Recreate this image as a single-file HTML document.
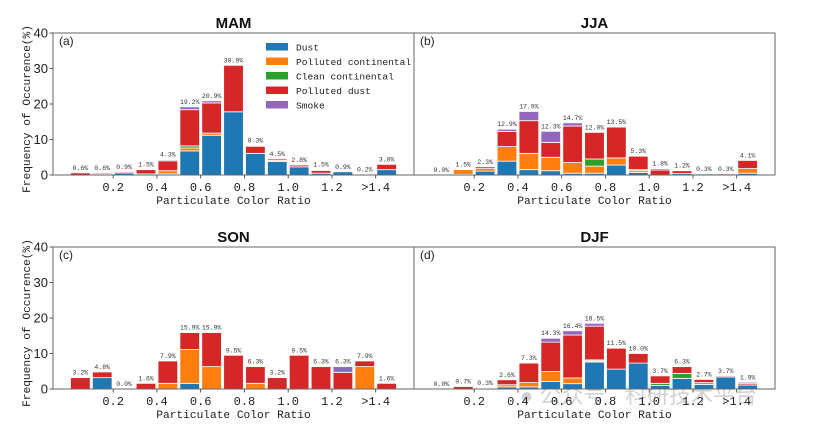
<!DOCTYPE html>
<html><head><meta charset="utf-8"><style>
html,body{margin:0;padding:0;background:#fff;}
svg{display:block;}
</style></head><body>
<svg id="chart" width="817" height="426" viewBox="0 0 817 426" xmlns="http://www.w3.org/2000/svg" font-family="Liberation Sans, sans-serif"></svg>
<script>
// ---- data (bins 0..14, stacked bottom->top: Dust, Polluted continental, Clean continental, Polluted dust, Smoke)
const xTickValues = [0.2,0.4,0.6,0.8,1.0,1.2,1.4];
const xTickLabels = ["0.2","0.4","0.6","0.8","1.0","1.2",">1.4"];
const yTickValues = [0,10,20,30,40];
const seriesNames = ["Dust","Polluted continental","Clean continental","Polluted dust","Smoke"];
const seriesColors = ["#1f77b4","#ff7f0e","#2ca02c","#d62728","#9467bd"];
const seasonNames = ["MAM","JJA","SON","DJF"];
const panelLetters = ["(a)","(b)","(c)","(d)"];

const mamDust    = [0,0.3,0.6,0.3,0.3,6.8,11.2,17.8,6.1,3.8,2.3,0.5,0.9,0,1.5];
const mamPolCont = [0,0,0,0,0.9,0.8,0.6,0,0,0.3,0,0,0,0,0];
const mamClean   = [0,0,0,0,0,0.6,0,0,0,0,0,0,0,0,0];
const mamPolDust = [0.6,0.3,0.3,1.2,2.8,10.2,8.5,13.1,2.0,0.4,0.5,0.8,0,0.2,1.5];
const mamSmoke   = [0,0,0,0,0.3,0.8,0.6,0,0.2,0,0,0.2,0,0,0];

const jjaDust    = [0,0.2,1.1,3.9,1.5,1.2,0.5,0.5,2.8,0.7,0,0.4,0.3,0,0.5];
const jjaPolCont = [0,1.3,0.7,4.1,4.6,3.8,3.0,2.0,2.0,0.5,0,0,0,0,1.3];
const jjaClean   = [0,0,0,0,0,0,0,2.0,0,0.3,0,0,0,0,0];
const jjaPolDust = [0,0,0.5,4.3,9.2,4.2,10.3,7.5,8.7,3.8,1.4,0.8,0,0.3,2.3];
const jjaSmoke   = [0,0,0,0.6,2.6,3.1,0.9,0,0,0,0.4,0,0,0,0];

const sonDust    = [0,3.2,0,0,0,1.6,0,0,0,0,0,0,0,0,0];
const sonPolCont = [0,0,0,0,1.6,9.5,6.3,0,1.6,0,0,0,0,6.3,0];
const sonClean   = [0,0,0,0,0,0,0,0,0,0,0,0,0,0,0];
const sonPolDust = [3.2,1.6,0,1.6,6.3,4.8,9.6,9.5,4.7,3.2,9.5,6.3,4.7,1.6,1.6];
const sonSmoke   = [0,0,0,0,0,0,0,0,0,0,0,0,1.6,0,0];

const djfDust    = [0,0,0,0.6,0.6,2.1,1.5,7.6,5.6,7.3,1.0,3.0,1.3,3.4,1.1];
const djfPolCont = [0,0,0.1,0.6,1.2,2.8,1.6,0.3,0,0,0,0,0.5,0,0];
const djfClean   = [0,0,0,0,0,0,0,0.3,0,0,0.6,1.4,0,0,0];
const djfPolDust = [0,0.7,0.2,1.4,5.5,8.3,12.1,9.5,5.9,2.7,2.1,1.9,0.9,0.3,0.4];
const djfSmoke   = [0,0,0,0,0,1.1,1.2,0.8,0,0,0,0,0,0,0.4];

const seasonSeries = [
  [mamDust,mamPolCont,mamClean,mamPolDust,mamSmoke],
  [jjaDust,jjaPolCont,jjaClean,jjaPolDust,jjaSmoke],
  [sonDust,sonPolCont,sonClean,sonPolDust,sonSmoke],
  [djfDust,djfPolCont,djfClean,djfPolDust,djfSmoke]
];

// ---- layout
const NS="http://www.w3.org/2000/svg";
const svg=document.getElementById('chart');
const panels=[{x0:53,x1:414,y0:33,y1:175},{x0:414,x1:775,y0:33,y1:175},{x0:53,x1:414,y0:247,y1:389},{x0:414,x1:775,y0:247,y1:389}];
const X_MIN=-0.075,X_MAX=1.575,Y_MAX=40,BIN=0.1,BAR_W=0.09;
function mk(tag,attrs,parent){const e=document.createElementNS(NS,tag);for(const k in attrs)e.setAttribute(k,attrs[k]);(parent||svg).appendChild(e);return e;}

// watermark (under everything)
const wm=mk('text',{x:520,y:403,'font-size':22,fill:'#c8c8c8','font-family':'Liberation Sans, Noto Sans CJK SC, sans-serif','opacity':0.8});


wm.textContent='● 公众号 · 科研技术平台';

panels.forEach((p,pi)=>{
  const xs=v=>p.x0+(v-X_MIN)/(X_MAX-X_MIN)*(p.x1-p.x0);
  const ys=v=>p.y1-v/Y_MAX*(p.y1-p.y0);
  const g=mk('g',{});
  
  
  const series=seasonSeries[pi];
  const n=series[0].length;
  for(let i=0;i<n;i++){
    let cum=0;
    const left=i*BIN+(BIN-BAR_W)/2;
    series.forEach((arr,si)=>{
      const v=arr[i];
      if(v>0){
        const r=mk('rect',{x:xs(left),y:ys(cum+v),width:xs(left+BAR_W)-xs(left),height:ys(cum)-ys(cum+v),fill:seriesColors[si],stroke:'#fff','stroke-width':0.8},g);
        
        
      }
      cum+=v;
    });
    const total=Math.round(cum*10)/10;
    const t=mk('text',{x:xs(i*BIN+BIN/2),y:ys(total)-3,'font-size':6.5,'text-anchor':'middle',fill:'#333','font-family':'Liberation Mono, monospace'},g);
    
    
    t.textContent=total.toFixed(1)+'%';
  }
  // frame
  const f=mk('rect',{x:p.x0,y:p.y0,width:p.x1-p.x0,height:p.y1-p.y0,fill:'none',stroke:'#666','stroke-width':1},g);
  
  
  // x ticks
  xTickValues.forEach((v,k)=>{
    const x=xs(v);
    mk('line',{x1:x,y1:p.y1,x2:x,y2:p.y1+3.5,stroke:'#333','stroke-width':0.8},g);
    const t=mk('text',{x:x,y:p.y1+16,'font-size':12,'text-anchor':'middle',fill:'#222','font-family':'Liberation Mono, monospace'},g);
    
    
    t.textContent=xTickLabels[k];
  });
  const xt=mk('text',{x:(p.x0+p.x1)/2,y:p.y1+29,'font-size':11.2,'text-anchor':'middle',fill:'#222','font-family':'Liberation Mono, monospace'},g);
  
  
  xt.textContent='Particulate Color Ratio';
  // y axis for left panels
  if(pi%2===0){
    yTickValues.forEach(v=>{
      const y=ys(v);
      mk('line',{x1:p.x0-3.5,y1:y,x2:p.x0,y2:y,stroke:'#333','stroke-width':0.8},g);
      const t=mk('text',{x:p.x0-5,y:y+4.5,'font-size':13,'text-anchor':'end',fill:'#222'},g);
      
      
      t.textContent=v;
    });
    const cy=(p.y0+p.y1)/2+5;
    const yt=mk('text',{x:0,y:0,'font-size':11.2,'text-anchor':'middle',fill:'#222','font-family':'Liberation Mono, monospace',transform:'translate(30,'+cy+') rotate(-90)'},g);
    
    
    yt.textContent='Frequency of Occurence(%)';
  }
  const ti=mk('text',{x:(p.x0+p.x1)/2,y:p.y0-5,'font-size':15,'font-weight':'bold','text-anchor':'middle',fill:'#111'},g);
  
  
  ti.textContent=seasonNames[pi];
  const pl=mk('text',{x:p.x0+6,y:p.y0+12,'font-size':12,fill:'#222'},g);
  
  
  pl.textContent=panelLetters[pi];
});

// legend in panel a
const lg=mk('g',{});


seriesNames.forEach((nm,i)=>{
  const y=43+i*14.5;
  const r=mk('rect',{x:266,y:y,width:22,height:7.5,fill:seriesColors[i]},lg);
  
  
  const t=mk('text',{x:296,y:y+7.5,'font-size':9.6,fill:'#222','font-family':'Liberation Mono, monospace'},lg);
  
  
  t.textContent=nm;
});
</script>
</body></html>
